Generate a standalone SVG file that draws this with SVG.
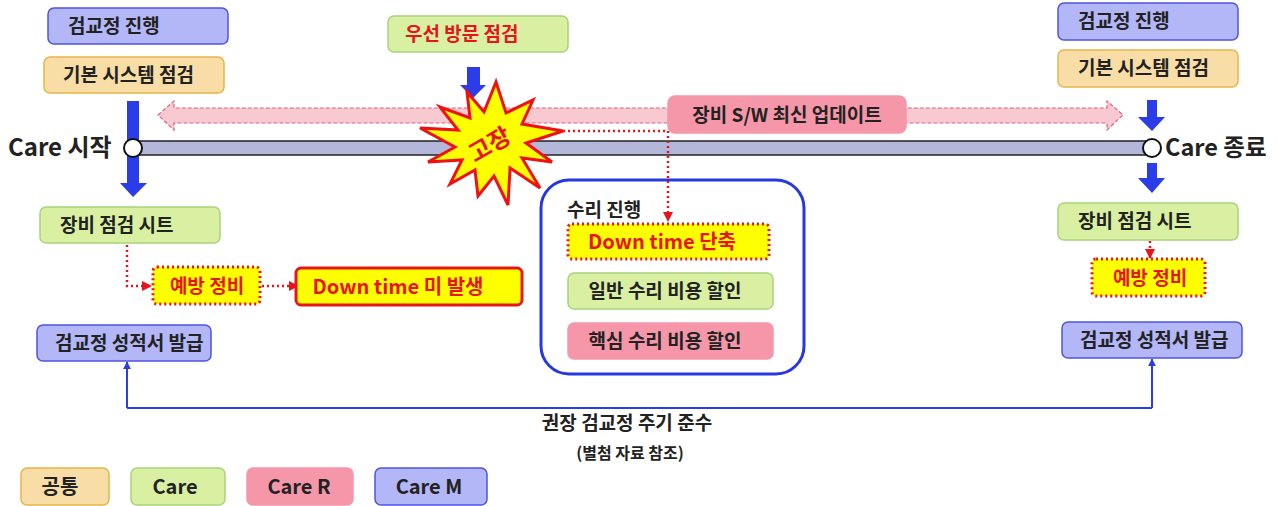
<svg xmlns="http://www.w3.org/2000/svg" width="1279" height="506" viewBox="0 0 1279 506">
<defs>
<marker id="ra" viewBox="0 0 10 10" refX="9" refY="5" markerWidth="4" markerHeight="4" orient="auto" markerUnits="strokeWidth"><path d="M0,0 L10,5 L0,10 z" fill="#e8141c"/></marker>
<marker id="ba" viewBox="0 0 10 10" refX="9" refY="5" markerWidth="4" markerHeight="4" orient="auto" markerUnits="strokeWidth"><path d="M0,0 L10,5 L0,10 z" fill="#2b3de8"/></marker>
</defs>
<style>
text{font-family:"Noto Sans CJK KR","Noto Sans",sans-serif;font-weight:bold;fill:#222;}
.l{font-size:19px;}
.lg{font-size:20px;}
.red{fill:#e8141c;}
.bm{fill:#b3b6f7;stroke:#4d55e0;stroke-width:1.5;}
.bo{fill:#f8dea6;stroke:#e6b54a;stroke-width:1.5;}
.bg{fill:#d9f0a3;stroke:#a8d47a;stroke-width:1.5;}
.bp{fill:#f597a9;stroke:#f597a9;stroke-width:1.5;}
.by{fill:#ffff00;stroke:#e8141c;stroke-width:3;stroke-dasharray:2 3;}
.dot{fill:none;stroke:#e8141c;stroke-width:2.5;stroke-dasharray:2 3;}
.ba{fill:#2b3de8;}
</style>

<g id="timeline">
<rect x="133" y="141" width="1018" height="14" fill="#b3b7d9" stroke="#222" stroke-width="1.5"/>
<path d="M158,115 L174,101 L174,108 L1107,108 L1107,101 L1123,115 L1107,130 L1107,123 L174,123 L174,130 Z" fill="#f9c9d2" stroke="#e0607e" stroke-width="1.2" stroke-dasharray="4 2"/>
</g>

<g id="repair">
<rect x="541" y="180" width="263" height="194" rx="28" fill="#fff" stroke="#2838e0" stroke-width="3"/>
<text x="567" y="217" class="l">수리 진행</text>
</g>

<g id="connectors">
<polygon class="ba" points="127,101 139,101 139,183 147,183 133,197 120,183 127,183"/>
<polygon class="ba" points="467,67 480,67 480,85 486,85 473,98 460,85 467,85"/>
<polygon class="ba" points="1147,100 1157,100 1157,117 1165,117 1152,131 1138,117 1147,117"/>
<polygon class="ba" points="1147,163 1157,163 1157,178 1165,178 1152,193 1138,178 1147,178"/>
<path class="dot" d="M548,131 L668,131 L668,221" marker-end="url(#ra)"/>
<path class="dot" d="M127,245 L127,286 L151,286" marker-end="url(#ra)"/>
<path class="dot" d="M262,286 L298,286" marker-end="url(#ra)"/>
<path class="dot" d="M1150,241 L1150,258" marker-end="url(#ra)"/>
<path d="M127,408 L1152,408" fill="none" stroke="#2b3de8" stroke-width="2"/>
<path d="M127,408 L127,362" fill="none" stroke="#2b3de8" stroke-width="2" marker-end="url(#ba)"/>
<path d="M1152,408 L1152,359" fill="none" stroke="#2b3de8" stroke-width="2" marker-end="url(#ba)"/>
</g>

<g id="start">
<circle cx="133" cy="148" r="9" fill="#fff" stroke="#111" stroke-width="2"/>
<text x="8" y="156" style="font-size:24px">Care 시작</text>
</g>
<g id="end">
<circle cx="1152" cy="148" r="9" fill="#fff" stroke="#111" stroke-width="2"/>
<text x="1165" y="156" style="font-size:23.5px">Care 종료</text>
</g>

<g id="l-calib"><rect class="bm" x="48" y="8" width="180" height="36" rx="6"/><text x="68" y="33" class="l">검교정 진행</text></g>
<g id="l-basic"><rect class="bo" x="44" y="57" width="180" height="36" rx="6"/><text x="63" y="82" class="l">기본 시스템 점검</text></g>
<g id="visit"><rect class="bg" x="388" y="16" width="180" height="36" rx="6"/><text x="405" y="41" class="l red">우선 방문 점검</text></g>
<g id="sw"><rect class="bp" x="668" y="96" width="238" height="37" rx="7"/><text x="787" y="122" class="l" text-anchor="middle">장비 S/W 최신 업데이트</text></g>
<g id="r-calib"><rect class="bm" x="1058" y="3" width="180" height="37" rx="6"/><text x="1078" y="28" class="l">검교정 진행</text></g>
<g id="r-basic"><rect class="bo" x="1058" y="50" width="180" height="37" rx="6"/><text x="1078" y="75" class="l">기본 시스템 점검</text></g>

<g id="l-sheet"><rect class="bg" x="40" y="207" width="180" height="36" rx="6"/><text x="60" y="232" class="l">장비 점검 시트</text></g>
<g id="l-prev"><rect class="by" x="153" y="267" width="107" height="37" rx="4"/><text x="207" y="293" class="l red" text-anchor="middle">예방 정비</text></g>
<g id="no-down"><rect x="296" y="268" width="226" height="37" rx="5" fill="#ffff00" stroke="#e8141c" stroke-width="3"/><text x="398" y="294" class="red" style="font-size:20px" text-anchor="middle">Down time 미 발생</text></g>
<g id="l-cert"><rect class="bm" x="37" y="325" width="174" height="36" rx="6"/><text x="55" y="350" class="l">검교정 성적서 발급</text></g>

<g id="r-sheet"><rect class="bg" x="1058" y="203" width="180" height="37" rx="6"/><text x="1078" y="228" class="l">장비 점검 시트</text></g>
<g id="r-prev"><rect class="by" x="1092" y="259" width="113" height="37" rx="4"/><text x="1150" y="285" class="l red" text-anchor="middle">예방 정비</text></g>
<g id="r-cert"><rect class="bm" x="1062" y="322" width="180" height="36" rx="6"/><text x="1080" y="347" class="l">검교정 성적서 발급</text></g>

<g id="down-short"><rect class="by" x="568" y="224" width="201" height="35" rx="4"/><text x="662" y="249" class="red" style="font-size:20px" text-anchor="middle">Down time 단축</text></g>
<g id="normal-disc"><rect class="bg" x="568" y="273" width="205" height="36" rx="6"/><text x="665" y="298" class="l" text-anchor="middle">일반 수리 비용 할인</text></g>
<g id="core-disc"><rect class="bp" x="568" y="323" width="205" height="36" rx="6"/><text x="665" y="348" class="l" text-anchor="middle">핵심 수리 비용 할인</text></g>

<g id="cycle">
<text x="627" y="430" text-anchor="middle" style="font-size:19px">권장 검교정 주기 준수</text>
<text x="630" y="459" text-anchor="middle" style="font-size:16px">(별첨 자료 참조)</text>
</g>

<g id="fault">
<polygon points="496,82 506,113 533,100 522,124 563,131 526,143 552,162 522,158 540,188 510,168 508,205 494,176 478,196 475,170 450,184 462,160 428,162 455,147 420,128 458,130 440,107 470,118 467,92 484,112" fill="#ffff00" stroke="#f01010" stroke-width="3" stroke-linejoin="miter"/>
<text x="490" y="153" text-anchor="middle" class="red" style="font-size:24px" transform="rotate(-30 490 145)">고장</text>
</g>

<g id="legend">
<g id="lg-common"><rect class="bo" x="21" y="468" width="88" height="37" rx="6"/><text x="60" y="494" class="lg" text-anchor="middle">공통</text></g>
<g id="lg-care"><rect class="bg" x="131" y="468" width="94" height="37" rx="6"/><text x="175" y="494" class="lg" text-anchor="middle">Care</text></g>
<g id="lg-carer"><rect class="bp" x="247" y="468" width="106" height="37" rx="6"/><text x="299" y="494" class="lg" text-anchor="middle">Care R</text></g>
<g id="lg-carem"><rect class="bm" x="375" y="468" width="112" height="37" rx="6"/><text x="429" y="494" class="lg" text-anchor="middle">Care M</text></g>
</g>
</svg>
